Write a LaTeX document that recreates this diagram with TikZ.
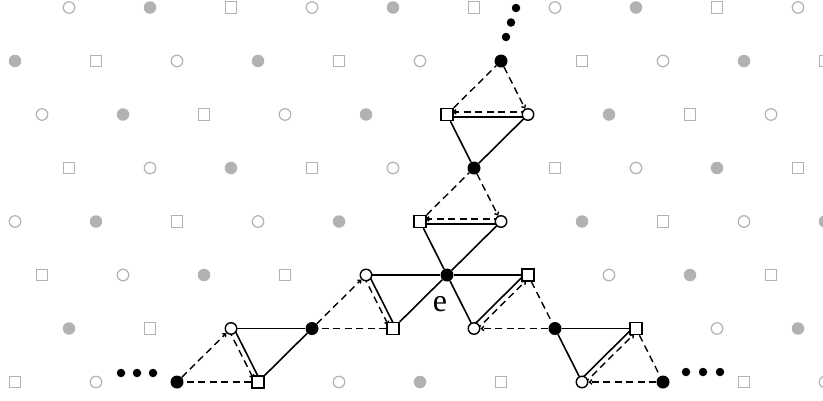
\documentclass[tikz,border=0pt]{standalone}
\usepackage{fontspec}
\setmainfont{Liberation Serif}
\usetikzlibrary{calc,arrows.meta}
\pgfdeclarelayer{bg}
\pgfsetlayers{bg,main}
\definecolor{latgrey}{RGB}{178,178,178}
\newcommand\markblk[2]{\expandafter\def\csname skip@#1@#2\endcsname{}}
\markblk{3}{5}\markblk{2}{5}\markblk{4}{5}\markblk{2}{6}\markblk{3}{6}
\markblk{3}{4}\markblk{4}{4}\markblk{4}{3}\markblk{4}{2}\markblk{5}{2}\markblk{5}{1}
\markblk{1}{6}\markblk{0}{6}\markblk{0}{7}\markblk{-1}{7}
\markblk{4}{6}\markblk{5}{6}\markblk{4}{7}\markblk{5}{7}
\newcommand\dpair[2]{%
  \draw[solidl] ($(#1)!2.6pt!90:(#2)$) -- ($(#2)!2.6pt!-90:(#1)$);
  \draw[dashl,tipd,shorten >=5.5pt] ($(#1)!2.6pt!-90:(#2)$) -- ($(#2)!2.6pt!90:(#1)$);}
\begin{document}
\begin{tikzpicture}[x=1pt,y=-1pt,
  gcirc/.style={circle,draw=latgrey,line width=1.2pt,fill=white,minimum size=11.5pt,inner sep=0pt},
  gfill/.style={circle,fill=latgrey,minimum size=12.5pt,inner sep=0pt},
  gsq/.style={rectangle,draw=latgrey,line width=1.2pt,fill=white,minimum size=11.5pt,inner sep=0pt},
  bcirc/.style={circle,draw=black,line width=1.4pt,fill=white,minimum size=11.5pt,inner sep=0pt},
  bfill/.style={circle,fill=black,minimum size=13pt,inner sep=0pt},
  bsq/.style={rectangle,draw=black,line width=1.4pt,fill=white,minimum size=12pt,inner sep=0pt},
  edot/.style={circle,fill=black,minimum size=8.5pt,inner sep=0pt},
  solidl/.style={line width=1.6pt},
  dashl/.style={line width=1.4pt,dash pattern=on 7pt off 4.5pt},
  tipd/.style={-{Straight Barb[length=2.5pt,width=4.5pt]}}]
\useasboundingbox (0,0) rectangle (823,400);
% grey lattice
\foreach \j in {0,...,7}{%
  \foreach \i in {-4,...,10}{%
    \pgfmathsetmacro\px{69+81*\i+27*\j}%
    \pgfmathsetmacro\py{7.5+53.5*\j}%
    \pgfmathtruncatemacro\tp{mod(mod(\i-\j,3)+3,3)}%
    \pgfmathtruncatemacro\inside{(\px>-7)&&(\px<831)}%
    \ifnum\inside=1
      \ifcsname skip@\i @\j\endcsname\else
        \ifcase\tp
          \node[gcirc] (g-\i-\j) at (\px,\py) {};
        \or
          \node[gfill] (g-\i-\j) at (\px,\py) {};
        \or
          \node[gsq] (g-\i-\j) at (\px,\py) {};
        \fi
      \fi
    \fi
  }}
% black nodes
\node[bfill] (e)  at (447,275) {};
\node[bcirc] (c1) at (366,275) {};
\node[bsq]   (s1) at (528,275) {};
\node[bsq]   (s2) at (393,328.5) {};
\node[bcirc] (c2) at (474,328.5) {};
\node[bsq]   (s3) at (420,221.5) {};
\node[bcirc] (c3) at (501,221.5) {};
\node[bfill] (f3) at (474,168) {};
\node[bsq]   (s4) at (447,114.5) {};
\node[bcirc] (c4) at (528,114.5) {};
\node[bfill] (f4) at (501,61) {};
\node[bfill] (f5) at (312,328.5) {};
\node[bcirc] (c5) at (231,328.5) {};
\node[bsq]   (s5) at (258,382) {};
\node[bfill] (f6) at (177,382) {};
\node[bfill] (f7) at (555,328.5) {};
\node[bsq]   (s7) at (636,328.5) {};
\node[bcirc] (c7) at (582,382) {};
\node[bfill] (f8) at (663,382) {};
% ellipses
\node[edot] (t1) at (516,8) {};
\node[edot] (t2) at (511,22.5) {};
\node[edot] (t3) at (506,37) {};
\node[edot] (l1) at (121,373) {};
\node[edot] (l2) at (137,373) {};
\node[edot] (l3) at (153,373) {};
\node[edot] (r1) at (686,372) {};
\node[edot] (r2) at (703,372) {};
\node[edot] (r3) at (720,372) {};
% label
\node[font=\fontsize{32}{32}\selectfont,inner sep=0pt] (lab) at (440,304) {e};
\begin{pgfonlayer}{bg}
% solid edges
\draw[solidl] (e) -- (c1);
\draw[solidl] (e) -- (s1);
\draw[solidl] (e) -- (s2);
\draw[solidl] (e) -- (c2);
\draw[solidl] (e) -- (s3);
\draw[solidl] (e) -- (c3);
\draw[solidl] (f3) -- (s4);
\draw[solidl] (f3) -- (c4);
\draw[solidl] (f5) -- (c5);
\draw[solidl] (f5) -- (s5);
\draw[solidl] (f7) -- (s7);
\draw[solidl] (f7) -- (c7);
% solid + dashed pairs (circle -> square)
\dpair{c1}{s2}
\dpair{c2}{s1}
\dpair{c3}{s3}
\dpair{c4}{s4}
\dpair{c5}{s5}
\dpair{c7}{s7}
% dashed filled -> circle
\draw[dashl,tipd] (f3) -- (c3);
\draw[dashl,tipd] (f4) -- (c4);
\draw[dashl,tipd] (f5) -- (c1);
\draw[dashl,tipd] (f6) -- (c5);
\draw[dashl,tipd] (f7) -- (c2);
\draw[dashl,tipd] (f8) -- (c7);
% dashed square -> filled
\draw[dashl] (s3) -- (f3);
\draw[dashl] (s4) -- (f4);
\draw[dashl] (s2) -- (f5);
\draw[dashl] (s5) -- (f6);
\draw[dashl] (s1) -- (f7);
\draw[dashl] (s7) -- (f8);
\end{pgfonlayer}
\end{tikzpicture}
\end{document}
